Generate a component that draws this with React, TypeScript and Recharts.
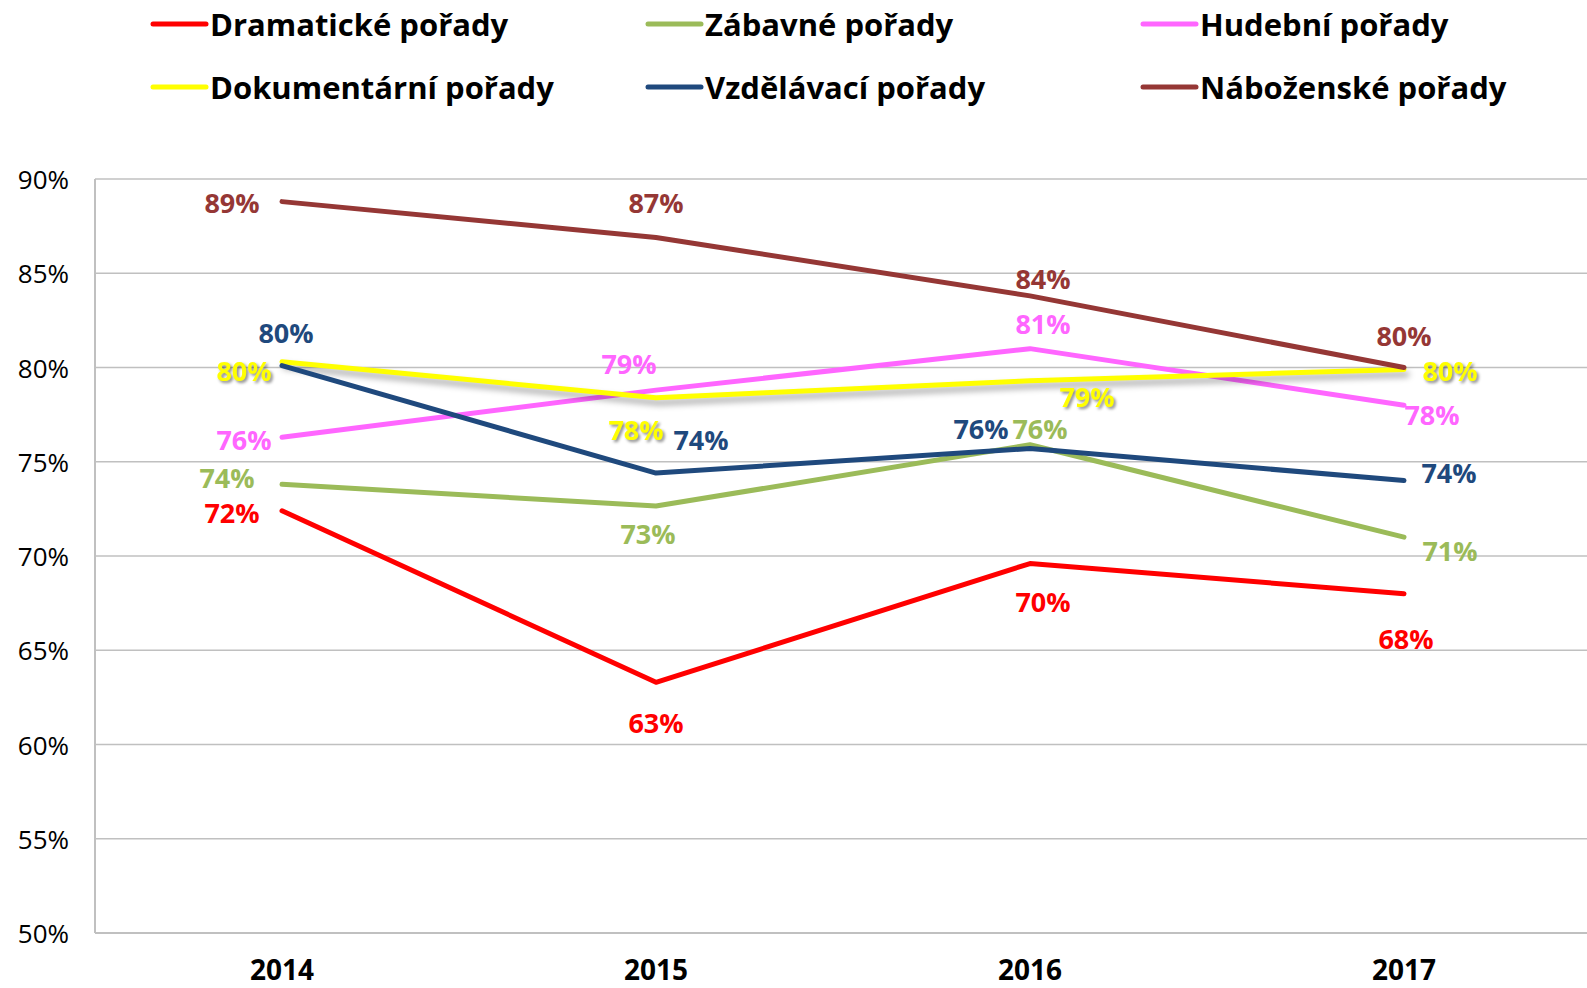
import React from 'react';
import { LineChart, Line, XAxis, YAxis, CartesianGrid, Legend, LabelList } from 'recharts';

const years = ['2014', '2015', '2016', '2017'];
const dramaticke = [72.4, 63.3, 69.6, 68.0];
const zabavne = [73.8, 72.65, 75.9, 71.0];
const hudebni = [76.3, 78.8, 81.0, 78.0];
const dokumentarni = [80.3, 78.4, 79.3, 79.9];
const vzdelavaci = [80.1, 74.4, 75.7, 74.0];
const nabozenske = [88.8, 86.9, 83.8, 80.0];
const yTicks = [50, 55, 60, 65, 70, 75, 80, 85, 90];

const seriesNames = [
  'Dramatické pořady',
  'Zábavné pořady',
  'Hudební pořady',
  'Dokumentární pořady',
  'Vzdělávací pořady',
  'Náboženské pořady',
];
const seriesValues = [dramaticke, zabavne, hudebni, dokumentarni, vzdelavaci, nabozenske];
const seriesColors = ['#FF0000', '#9BBB59', '#FF66FF', '#FFFF00', '#1F497D', '#953735'];

// label offsets (dx, dy) relative to each point
const labelOffsets: number[][][] = [
  [[-50, 2], [0, 40], [13, 38], [2, 45]],
  [[-55, -7], [-8, 27], [10, -16], [46, 13]],
  [[-38, 2], [-27, -27], [13, -25], [28, 9]],
  [[-38, 9], [-20, 32], [57, 16], [46, 1]],
  [[4, -33], [45, -34], [-49, -20], [45, -8]],
  [[-50, 1], [0, -35], [13, -17], [0, -32]],
];

const data = years.map((y, i) => {
  const row: any = { year: y };
  seriesValues.forEach((vals, s) => {
    row['s' + s] = vals[i];
  });
  return row;
});

const FONT = '"Open Sans", Lato, sans-serif';

const legendCols = [150, 645, 1140];
const legendRows = [24, 87];

const renderLegend = () => (
  <div style={{ position: 'relative', width: 1587, height: 120 }}>
    {seriesNames.map((name, i) => {
      const left = legendCols[i % 3];
      const top = legendRows[Math.floor(i / 3)];
      return (
        <div
          key={name}
          style={{
            position: 'absolute',
            left,
            top: top - 20,
            height: 40,
            display: 'flex',
            alignItems: 'center',
            whiteSpace: 'nowrap',
          }}
        >
          <svg width={60} height={10} style={{ display: 'block' }}>
            <line x1={3} y1={5} x2={56} y2={5} stroke={seriesColors[i]} strokeWidth={5} strokeLinecap="round" />
          </svg>
          <span style={{ fontFamily: FONT, fontWeight: 700, fontSize: 31, color: '#000' }}>{name}</span>
        </div>
      );
    })}
  </div>
);

const makeLabel = (s: number) => (props: any) => {
  const { x, y, value, index } = props;
  const [dx, dy] = labelOffsets[s][index];
  const isYellow = s === 3;
  return (
    <text
      x={x + dx}
      y={y + dy}
      textAnchor="middle"
      dominantBaseline="central"
      fill={seriesColors[s]}
      style={{
        fontFamily: FONT,
        fontWeight: 700,
        fontSize: 27,
        filter: isYellow ? 'drop-shadow(2px 2px 1.5px rgba(0,0,0,0.45))' : undefined,
      }}
    >
      {Math.round(value) + '%'}
    </text>
  );
};

const YTick = (props: any) => {
  const { y, payload } = props;
  return (
    <text x={69} y={y} textAnchor="end" dominantBaseline="central" fill="#000" style={{ fontFamily: FONT, fontSize: 26 }}>
      {payload.value + '%'}
    </text>
  );
};

const XTick = (props: any) => {
  const { x, y, payload } = props;
  return (
    <text x={x} y={y + 28} textAnchor="middle" dominantBaseline="central" fill="#000" style={{ fontFamily: FONT, fontSize: 28, fontWeight: 700 }}>
      {payload.value}
    </text>
  );
};

export default function App() {
  return (
    <div style={{ position: 'absolute', left: 0, top: 0, width: 1587, height: 988, background: '#fff' }}>
      <style>{`.yellow-line .recharts-line-curve { filter: drop-shadow(3px 5px 3px rgba(0,0,0,0.35)); }`}</style>
      <LineChart width={1587} height={988} data={data} margin={{ top: 179, right: 0, bottom: 0, left: 0 }}>
        <CartesianGrid vertical={false} stroke="#C0C0C0" strokeWidth={1.5} />
        <XAxis
          dataKey="year"
          height={55}
          padding={{ left: 187, right: 183 }}
          axisLine={{ stroke: '#C0C0C0', strokeWidth: 2 }}
          tickLine={false}
          tick={<XTick />}
          interval={0}
        />
        <YAxis
          width={95}
          domain={[50, 90]}
          ticks={yTicks}
          axisLine={{ stroke: '#C0C0C0', strokeWidth: 2 }}
          tickLine={false}
          tick={<YTick />}
          interval={0}
        />
        <Legend verticalAlign="middle" align="center" layout="horizontal" content={renderLegend}
          wrapperStyle={{ top: 0, left: 0, width: 1587, height: 120 }} />
        {seriesNames.map((name, s) => (
          <Line
            key={name}
            name={name}
            dataKey={'s' + s}
            stroke={seriesColors[s]}
            strokeWidth={5}
            strokeLinecap="round"
            strokeLinejoin="round"
            dot={false}
            activeDot={false}
            isAnimationActive={false}
            className={s === 3 ? 'yellow-line' : undefined}
          >
            <LabelList dataKey={'s' + s} content={makeLabel(s)} />
          </Line>
        ))}
      </LineChart>
    </div>
  );
}
